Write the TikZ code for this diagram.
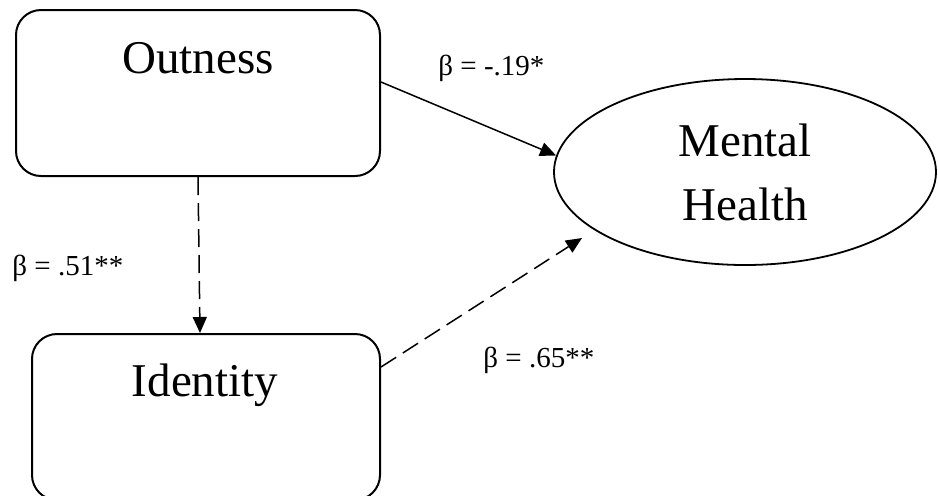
\documentclass[tikz,border=0pt]{standalone}
\usepackage{fontspec}
\setmainfont{Liberation Serif}
\usetikzlibrary{shapes.geometric,arrows.meta}
\begin{document}
\begin{tikzpicture}[x=0.5pt,y=-0.5pt,
  varbox/.style={draw, line width=1pt, rounded corners=12.5pt, minimum width=182pt, minimum height=83pt},
  outcome/.style={draw, ellipse, line width=0.9pt, minimum width=191pt, minimum height=93pt, inner sep=0pt, align=center, font=\fontsize{23.5}{32}\selectfont},
  bigtext/.style={font=\fontsize{23.5}{28}\selectfont, anchor=base, inner sep=0pt},
  coef/.style={font=\fontsize{14.5}{17}\selectfont, anchor=base west, inner sep=0pt},
  effect/.style={line width=0.75pt, -{Triangle[length=8pt,width=7pt]}},
  effectdash/.style={effect, dash pattern=on 9pt off 4pt}]
  \clip (0,0) rectangle (938,495);
  % variables
  \node[varbox] (outness) at (198,93) {};
  \node[bigtext] (outnessText) at (198,73) {Outness};
  \node[varbox, minimum width=174pt] (identity) at (206,417) {};
  \node[bigtext] (identityText) at (205,396) {Identity};
  \node[outcome] (mental) at (745,172) {Mental\\Health};
  \coordinate (mhIn) at (582,238);
  % paths
  \draw[effect] ([yshift=5.5pt]outness.east) -- (mental.175);
  \draw[effectdash] (outness.south) -- ([xshift=-3pt]identity.north);
  \draw[effectdash] ([yshift=25pt]identity.east) -- (mhIn);
  \node[coef] (b1) at (438,75) {β = -.19*};
  \node[coef] (b2) at (12,275) {β = .51**};
  \node[coef] (b3) at (483,367) {β = .65**};
\end{tikzpicture}
\end{document}
